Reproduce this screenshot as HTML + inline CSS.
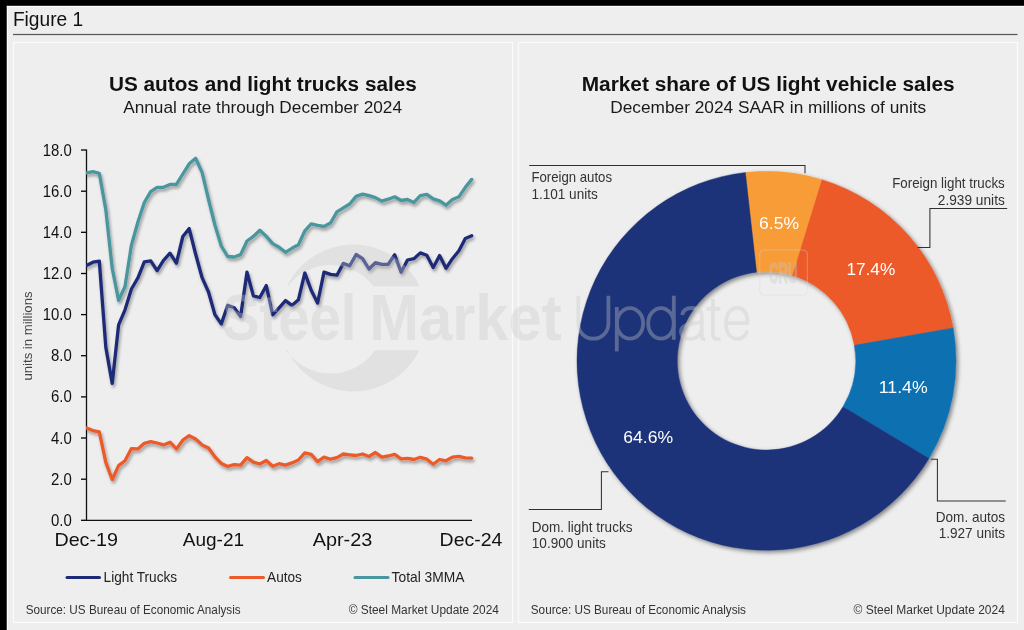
<!DOCTYPE html>
<html><head><meta charset="utf-8"><title>Figure 1</title>
<style>
html,body{margin:0;padding:0;background:#eeeeee;}
body{width:1024px;height:630px;overflow:hidden;font-family:"Liberation Sans",sans-serif;}
svg{display:block;font-family:"Liberation Sans",sans-serif;will-change:transform;transform:translateZ(0);}
</style></head><body>
<svg width="1024" height="630" viewBox="0 0 1024 630">
<defs>
<filter id="ls" x="-5%" y="-5%" width="110%" height="115%"><feDropShadow dx="1.4" dy="2.5" stdDeviation="1.6" flood-color="#000" flood-opacity="0.36"/></filter>
<filter id="ds" x="-5%" y="-5%" width="110%" height="110%"><feDropShadow dx="2" dy="2" stdDeviation="2" flood-color="#000" flood-opacity="0.45"/></filter>
<clipPath id="plot"><rect x="85.9" y="140" width="420" height="380"/></clipPath>
<clipPath id="cu"><rect x="270" y="240" width="170" height="46.3"/><rect x="270" y="350.3" width="170" height="60"/></clipPath>
<filter id="thin" x="-2%" y="-10%" width="104%" height="130%"><feMorphology operator="erode" radius="1.05"/></filter>
</defs>
<rect x="0" y="0" width="1024" height="630" fill="#eeeeee"/>
<!-- black frame top/left -->
<rect x="0" y="0" width="1024" height="5.9" fill="#000"/>
<rect x="0" y="0" width="6.85" height="630" fill="#000"/>
<rect x="6.85" y="5.9" width="1018" height="1.2" fill="#fcfcfc"/>
<rect x="6.85" y="5.9" width="1.1" height="625" fill="#fcfcfc"/>
<!-- header -->
<text x="12.9" y="26" font-size="19.8" text-anchor="start" fill="#111" font-weight="400" textLength="70.3" lengthAdjust="spacingAndGlyphs">Figure 1</text>

<rect x="13" y="33.9" width="1004.5" height="1.2" fill="#555"/>
<!-- panels -->
<rect x="13.5" y="42.5" width="499" height="580" fill="none" stroke="#fbfbfb" stroke-width="1.2"/>
<rect x="518.5" y="42.5" width="499" height="580" fill="none" stroke="#fbfbfb" stroke-width="1.2"/>

<!-- LEFT CHART -->
<text x="262.9" y="91.3" font-size="20" text-anchor="middle" fill="#111" font-weight="700" textLength="307.8" lengthAdjust="spacingAndGlyphs">US autos and light trucks sales</text>

<text x="262.6" y="112.5" font-size="16.6" text-anchor="middle" fill="#1a1a1a" font-weight="400" textLength="278.8" lengthAdjust="spacingAndGlyphs">Annual rate through December 2024</text>

<g>
<line x1="81" y1="520.3" x2="86.5" y2="520.3" stroke="#000" stroke-width="1.3"/>
<text x="71.8" y="525.8" text-anchor="end" font-size="15.7" fill="#111" textLength="20.8" lengthAdjust="spacingAndGlyphs">0.0</text>
<line x1="81" y1="479.2" x2="86.5" y2="479.2" stroke="#000" stroke-width="1.3"/>
<text x="71.8" y="484.7" text-anchor="end" font-size="15.7" fill="#111" textLength="20.8" lengthAdjust="spacingAndGlyphs">2.0</text>
<line x1="81" y1="438.0" x2="86.5" y2="438.0" stroke="#000" stroke-width="1.3"/>
<text x="71.8" y="443.5" text-anchor="end" font-size="15.7" fill="#111" textLength="20.8" lengthAdjust="spacingAndGlyphs">4.0</text>
<line x1="81" y1="396.9" x2="86.5" y2="396.9" stroke="#000" stroke-width="1.3"/>
<text x="71.8" y="402.4" text-anchor="end" font-size="15.7" fill="#111" textLength="20.8" lengthAdjust="spacingAndGlyphs">6.0</text>
<line x1="81" y1="355.7" x2="86.5" y2="355.7" stroke="#000" stroke-width="1.3"/>
<text x="71.8" y="361.2" text-anchor="end" font-size="15.7" fill="#111" textLength="20.8" lengthAdjust="spacingAndGlyphs">8.0</text>
<line x1="81" y1="314.6" x2="86.5" y2="314.6" stroke="#000" stroke-width="1.3"/>
<text x="71.8" y="320.1" text-anchor="end" font-size="15.7" fill="#111" textLength="29.0" lengthAdjust="spacingAndGlyphs">10.0</text>
<line x1="81" y1="273.5" x2="86.5" y2="273.5" stroke="#000" stroke-width="1.3"/>
<text x="71.8" y="279.0" text-anchor="end" font-size="15.7" fill="#111" textLength="29.0" lengthAdjust="spacingAndGlyphs">12.0</text>
<line x1="81" y1="232.3" x2="86.5" y2="232.3" stroke="#000" stroke-width="1.3"/>
<text x="71.8" y="237.8" text-anchor="end" font-size="15.7" fill="#111" textLength="29.0" lengthAdjust="spacingAndGlyphs">14.0</text>
<line x1="81" y1="191.2" x2="86.5" y2="191.2" stroke="#000" stroke-width="1.3"/>
<text x="71.8" y="196.7" text-anchor="end" font-size="15.7" fill="#111" textLength="29.0" lengthAdjust="spacingAndGlyphs">16.0</text>
<line x1="81" y1="150.0" x2="86.5" y2="150.0" stroke="#000" stroke-width="1.3"/>
<text x="71.8" y="155.5" text-anchor="end" font-size="15.7" fill="#111" textLength="29.0" lengthAdjust="spacingAndGlyphs">18.0</text>

<line x1="86.5" y1="149.4" x2="86.5" y2="520.9" stroke="#111" stroke-width="1.3"/>
<line x1="85.9" y1="520.3" x2="472" y2="520.3" stroke="#111" stroke-width="1.3"/>
</g>
<text transform="translate(32.2,336) rotate(-90)" text-anchor="middle" font-size="13" fill="#444" textLength="89" lengthAdjust="spacingAndGlyphs">units in millions</text>
<g clip-path="url(#plot)"><g fill="none" stroke-linejoin="round" stroke-linecap="round" stroke-width="3.3" filter="url(#ls)">
<polyline stroke="#4a969e" points="86.5,172.9 92.9,171.7 99.3,173.3 105.8,209.6 112.2,268.3 118.6,300.4 125.0,286.5 131.4,245.2 137.9,222.0 144.3,202.5 150.7,191.6 157.1,187.3 163.5,187.3 170.0,184.4 176.4,184.4 182.8,174.0 189.2,163.8 195.6,158.3 202.1,172.4 208.5,199.4 214.9,225.0 221.3,246.0 227.7,256.5 234.2,257.0 240.6,254.6 247.0,241.0 253.4,236.4 259.8,230.2 266.3,236.4 272.7,243.6 279.1,247.2 285.5,252.3 291.9,248.3 298.4,244.8 304.8,230.9 311.2,223.8 317.6,225.4 324.0,226.5 330.5,223.0 336.9,211.9 343.3,207.9 349.7,204.0 356.1,196.4 362.6,194.1 369.0,195.7 375.4,197.6 381.8,201.1 388.2,199.2 394.7,196.8 401.1,200.5 407.5,199.5 413.9,202.4 420.3,195.6 426.8,194.4 433.2,198.9 439.6,200.8 446.0,205.2 452.4,199.5 458.9,196.8 465.3,187.3 471.7,179.4"/>
<polyline stroke="#1d2a78" points="86.5,265.4 92.9,262.2 99.3,261.1 105.8,347.1 112.2,383.4 118.6,324.9 125.0,309.8 131.4,289.0 137.9,277.8 144.3,261.9 150.7,260.8 157.1,270.6 163.5,260.3 170.0,253.2 176.4,263.2 182.8,236.5 189.2,228.6 195.6,254.0 202.1,277.7 208.5,292.0 214.9,314.6 221.3,323.9 227.7,305.3 234.2,307.7 240.6,316.4 247.0,272.1 253.4,295.9 259.8,297.5 266.3,285.6 272.7,314.9 279.1,307.8 285.5,300.6 291.9,305.4 298.4,299.8 304.8,272.9 311.2,290.3 317.6,303.0 324.0,272.1 330.5,274.4 336.9,275.2 343.3,263.4 349.7,265.8 356.1,254.5 362.6,258.7 369.0,269.0 375.4,262.7 381.8,264.3 388.2,264.3 394.7,254.8 401.1,272.2 407.5,260.0 413.9,258.7 420.3,252.9 426.8,255.2 433.2,267.5 439.6,255.6 446.0,268.3 452.4,258.7 458.9,250.8 465.3,238.4 471.7,235.7"/>
<polyline stroke="#ec5a29" points="86.5,427.9 92.9,430.6 99.3,431.9 105.8,462.4 112.2,479.5 118.6,465.6 125.0,460.8 131.4,448.6 137.9,448.9 144.3,443.3 150.7,441.7 157.1,443.0 163.5,444.9 170.0,442.2 176.4,448.9 182.8,440.2 189.2,435.7 195.6,439.0 202.1,444.9 208.5,448.1 214.9,456.8 221.3,463.4 227.7,466.4 234.2,464.6 240.6,465.1 247.0,457.6 253.4,462.1 259.8,464.0 266.3,460.5 272.7,466.3 279.1,463.7 285.5,465.1 291.9,462.9 298.4,460.0 304.8,452.9 311.2,454.4 317.6,461.6 324.0,457.1 330.5,459.2 336.9,457.6 343.3,454.0 349.7,454.8 356.1,455.5 362.6,454.0 369.0,456.5 375.4,452.5 381.8,457.1 388.2,456.0 394.7,454.4 401.1,458.9 407.5,458.4 413.9,459.5 420.3,457.3 426.8,459.2 433.2,464.3 439.6,459.5 446.0,460.8 452.4,457.1 458.9,456.3 465.3,457.9 471.7,458.1"/>
</g></g>
<text x="86.2" y="545.7" font-size="19" text-anchor="middle" fill="#111" font-weight="400" textLength="63.5" lengthAdjust="spacingAndGlyphs">Dec-19</text>

<text x="213.4" y="545.7" font-size="19" text-anchor="middle" fill="#111" font-weight="400" textLength="61.4" lengthAdjust="spacingAndGlyphs">Aug-21</text>

<text x="342.5" y="545.7" font-size="19" text-anchor="middle" fill="#111" font-weight="400" textLength="59.6" lengthAdjust="spacingAndGlyphs">Apr-23</text>

<text x="471.0" y="545.7" font-size="19" text-anchor="middle" fill="#111" font-weight="400" textLength="62.8" lengthAdjust="spacingAndGlyphs">Dec-24</text>

<!-- legend -->
<g stroke-width="3" stroke-linecap="round">
<line x1="67" y1="577.5" x2="99.5" y2="577.5" stroke="#1d2a78"/>
<line x1="230.5" y1="577.5" x2="263.5" y2="577.5" stroke="#ec5a29"/>
<line x1="355" y1="577.5" x2="388" y2="577.5" stroke="#4a969e"/>
</g>
<text x="103.6" y="582" font-size="14.1" text-anchor="start" fill="#222" font-weight="400" textLength="73.6" lengthAdjust="spacingAndGlyphs">Light Trucks</text>

<text x="267.1" y="582" font-size="14.1" text-anchor="start" fill="#222" font-weight="400" textLength="34.8" lengthAdjust="spacingAndGlyphs">Autos</text>

<text x="391.6" y="582" font-size="14.1" text-anchor="start" fill="#222" font-weight="400" textLength="72.8" lengthAdjust="spacingAndGlyphs">Total 3MMA</text>

<text x="25.7" y="613.6" font-size="12.3" text-anchor="start" fill="#333" font-weight="400" textLength="215" lengthAdjust="spacingAndGlyphs">Source: US Bureau of Economic Analysis</text>

<text x="348.7" y="613.6" font-size="12.3" text-anchor="start" fill="#333" font-weight="400" textLength="150.3" lengthAdjust="spacingAndGlyphs">© Steel Market Update 2024</text>


<!-- RIGHT CHART -->
<text x="768.2" y="91.3" font-size="20" text-anchor="middle" fill="#111" font-weight="700" textLength="373" lengthAdjust="spacingAndGlyphs">Market share of US light vehicle sales</text>

<text x="768.2" y="112.7" font-size="16.6" text-anchor="middle" fill="#1a1a1a" font-weight="400" textLength="316" lengthAdjust="spacingAndGlyphs">December 2024 SAAR in millions of units</text>

<g filter="url(#ds)">
<path d="M745.38,172.48 A189.5,189.5 0 0 1 822.06,179.63 L792.65,275.52 A89.2,89.2 0 0 0 756.56,272.16 Z" fill="#f89c38" stroke="#f89c38" stroke-width="0.4"/>
<path d="M822.06,179.63 A189.5,189.5 0 0 1 953.12,327.89 L854.34,345.31 A89.2,89.2 0 0 0 792.65,275.52 Z" fill="#ec5a29" stroke="#ec5a29" stroke-width="0.4"/>
<path d="M953.12,327.89 A189.5,189.5 0 0 1 928.93,458.40 L842.96,406.74 A89.2,89.2 0 0 0 854.34,345.31 Z" fill="#0f6fb1" stroke="#0f6fb1" stroke-width="0.4"/>
<path d="M928.93,458.40 A189.5,189.5 0 1 1 745.38,172.48 L756.56,272.16 A89.2,89.2 0 1 0 842.96,406.74 Z" fill="#1f3379" stroke="#1f3379" stroke-width="0.4"/>
</g>
<g fill="#fff" font-size="17.4">
<text x="759.1" y="228.9" font-size="17.4" text-anchor="start" fill="#fff" font-weight="400" textLength="39.9" lengthAdjust="spacingAndGlyphs">6.5%</text>

<text x="846.4" y="275.2" font-size="17.4" text-anchor="start" fill="#fff" font-weight="400" textLength="48.9" lengthAdjust="spacingAndGlyphs">17.4%</text>

<text x="878.8" y="392.7" font-size="17.4" text-anchor="start" fill="#fff" font-weight="400" textLength="48.9" lengthAdjust="spacingAndGlyphs">11.4%</text>

<text x="623.2" y="442.6" font-size="17.4" text-anchor="start" fill="#fff" font-weight="400" textLength="49.9" lengthAdjust="spacingAndGlyphs">64.6%</text>

</g>
<!-- leaders -->
<g fill="none" stroke="#303030" stroke-width="1.05">
<polyline points="529.2,165.5 805,165.5 805,173.3"/>
<polyline points="1007.2,208.4 929.9,208.4 929.9,247.4 917.5,247.4"/>
<polyline points="931,459.3 937.4,459.3 937.4,500.9 1005.7,500.9"/>
<polyline points="528.8,509.4 601.4,509.4 601.4,471.8 608.5,471.8"/>
</g>
<text x="531.4" y="182.4" font-size="13.9" text-anchor="start" fill="#333" font-weight="400" textLength="80.6" lengthAdjust="spacingAndGlyphs">Foreign autos</text>

<text x="531.4" y="199.4" font-size="13.9" text-anchor="start" fill="#333" font-weight="400" textLength="66.4" lengthAdjust="spacingAndGlyphs">1.101 units</text>

<text x="1004.8" y="188.3" font-size="13.9" text-anchor="end" fill="#333" font-weight="400" textLength="112.6" lengthAdjust="spacingAndGlyphs">Foreign light trucks</text>

<text x="1004.8" y="204.8" font-size="13.9" text-anchor="end" fill="#333" font-weight="400" textLength="67" lengthAdjust="spacingAndGlyphs">2.939 units</text>

<text x="1005.1" y="521.5" font-size="13.9" text-anchor="end" fill="#333" font-weight="400" textLength="69.3" lengthAdjust="spacingAndGlyphs">Dom. autos</text>

<text x="1005.1" y="537.7" font-size="13.9" text-anchor="end" fill="#333" font-weight="400" textLength="66.4" lengthAdjust="spacingAndGlyphs">1.927 units</text>

<text x="531.8" y="531.5" font-size="13.9" text-anchor="start" fill="#333" font-weight="400" textLength="100.6" lengthAdjust="spacingAndGlyphs">Dom. light trucks</text>

<text x="531.8" y="548.1" font-size="13.9" text-anchor="start" fill="#333" font-weight="400" textLength="73.9" lengthAdjust="spacingAndGlyphs">10.900 units</text>


<text x="530.8" y="613.6" font-size="12.3" text-anchor="start" fill="#333" font-weight="400" textLength="215.2" lengthAdjust="spacingAndGlyphs">Source: US Bureau of Economic Analysis</text>

<text x="853.5" y="613.6" font-size="12.3" text-anchor="start" fill="#333" font-weight="400" textLength="151.3" lengthAdjust="spacingAndGlyphs">© Steel Market Update 2024</text>

<!-- watermark -->
<g fill="#cacaca" fill-opacity="0.36">
<g clip-path="url(#cu)"><path fill-rule="evenodd" d="M353.3,244.6 a73.4,73.4 0 1 0 0.01,0 Z M330.6,265.1 a54.2,54.2 0 1 1 -0.01,0 Z"/></g>
<text x="222" y="340" font-size="64.5" font-weight="700" textLength="134.5" lengthAdjust="spacingAndGlyphs">Steel</text>
<text x="369.2" y="340" font-size="64.5" font-weight="700" textLength="192.5" lengthAdjust="spacingAndGlyphs">Market</text>

</g>
<g opacity="0.36" stroke="#cacaca" stroke-width="3.8" fill="none" stroke-linecap="butt" stroke-linejoin="round">
<path d="M578.3,295.7 V323.7 A15.05,15 0 0 0 608.4,323.7 V295.7"/>
<path d="M616.8,307 V351.4"/><ellipse cx="630" cy="323.4" rx="13.1" ry="15.3"/>
<path d="M673.8,295.7 V339.7"/><ellipse cx="661" cy="323.4" rx="12.8" ry="15.3"/>
<path d="M682.2,315 C683,309.8 687,308 692,308 C698,308 701.7,310.5 701.7,316.5 V336 Q701.7,339.6 705.2,339.3"/>
<path d="M701.7,321.5 C697,324.8 681,322 681,331.5 C681,336.5 685,338.9 690,338.9 C696,338.9 701.7,335 701.7,329"/>
<path d="M712.9,298.7 V334 Q712.9,339.2 718,339.2 H720.5 M706.6,308.8 H720.3"/>
<path d="M726.2,323.2 H747.5 C747.5,313 743.5,308 736.9,308 C730,308 726.1,314.5 726.1,323.4 C726.1,332.5 730,338.8 737,338.8 C742.5,338.8 746,335.5 747.2,330.5"/>
</g>
<!-- CRU badge -->
<rect x="759.8" y="250" width="47.5" height="45" rx="4" fill="none" stroke="#d4d4d4" stroke-opacity="0.42" stroke-width="0.9"/>
<g opacity="0.36"><text transform="translate(768.7,282.6) scale(0.44,1)" font-size="30.4" font-weight="700" fill="#c8c8c8" stroke="#c8c8c8" stroke-width="1.0" vector-effect="non-scaling-stroke">CRU</text></g>
</svg>
</body></html>
